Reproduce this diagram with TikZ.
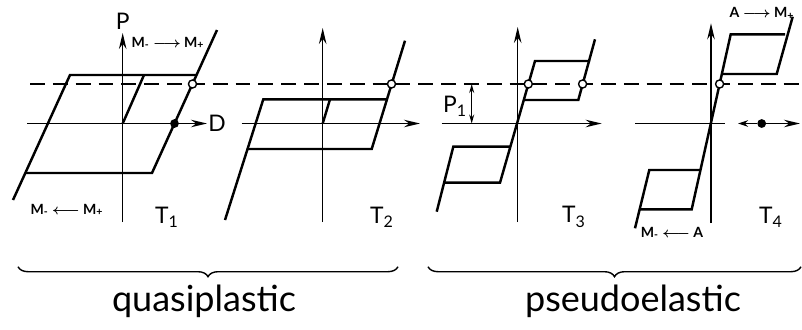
\documentclass[tikz,border=0pt]{standalone}
\usepackage{amsmath}
\usepackage{fontspec}
\setmainfont{Lato}
\usetikzlibrary{arrows.meta, decorations.pathreplacing}
\tikzset{
	axisarrow/.style={line width=0.9pt, -{Stealth[length=3.2mm, width=1.5mm]}},
	branch/.style   ={line width=1.4pt, line join=miter},
	dashline/.style ={line width=0.9pt, dash pattern=on 8.5pt off 4.5pt},
	opendot/.style  ={circle, draw=black, line width=0.8pt, fill=white, minimum size=4.6pt, inner sep=0pt},
	fulldot/.style  ={circle, fill=black, minimum size=5pt, inner sep=0pt},
	axlabel/.style  ={font=\fontsize{13}{15}\selectfont},
	phase/.style    ={font=\fontsize{8}{9}\selectfont\bfseries\boldmath},
	regime/.style   ={font=\fontsize{20.5}{24}\selectfont, anchor=base},
	grp/.style      ={line width=0.8pt, decorate, decoration={brace, mirror, amplitude=0.2cm}},
}
\begin{document}
\begin{tikzpicture}[x=0.02cm, y=-0.02cm]
	\useasboundingbox (0,0) rectangle (802,329);
	% level of the critical load
	\draw[dashline] (30,84) -- (800,84);
	% axes
	\foreach \n/\x/\top/\left/\right in {1/122.7/33/27/207, 2/322.7/28/241.7/420, 3/517.7/27/441.7/601.7} {
		\coordinate (o\n) at (\x,123.5);
		\draw[axisarrow] (\x,222) -- (\x,\top);
		\draw[axisarrow] (\left,123.5) -- (\right,123.5);
	}
	\coordinate (o4) at (711,123.5);
	\draw[axisarrow] (711,223) -- (711,23.3);
	\draw[line width=0.9pt] (635,123.5) -- (725,123.5);
	\foreach \n/\x in {1/167, 2/382, 3/574, 4/771}
		\node[axlabel] (t\n) at (\x,217) {T\textsubscript{\n}};
	\node[axlabel] (lP) at (122.7,21) {P};
	\node[axlabel] (lD) at (217,123.5) {D};
	% T1
	\draw[branch] (13,200) -- (70,75) -- (196.6,75);
	\draw[branch] (25.3,173) -- (152,173) -- (217,30);
	\draw[branch] (o1) -- (144,75);
	% T2
	\draw[branch] (225,220) -- (263.3,99.3) -- (387,99.3);
	\draw[branch] (247.5,149) -- (371.7,149) -- (405,40.7);
	\draw[branch] (o2) -- (330,99.3);
	% T3
	\draw[branch] (444,182.7) -- (500,182.7) -- (535,61) -- (590,61);
	\draw[branch] (436.7,211.7) -- (453.3,146.7) -- (510.4,146.7);
	\draw[branch] (524,100) -- (578.3,100) -- (595,39.3);
	% T4
	\draw[branch] (639.7,209.3) -- (691.7,209.3) -- (730.7,34.3) -- (785,34.3);
	\draw[branch] (635,228.3) -- (649.3,170) -- (700.5,170);
	\draw[branch] (721.9,74) -- (776.7,74) -- (792.7,16.7);
	% points
	\node[opendot] (c1) at (192.5,84) {};
	\node[fulldot] (f1) at (174.5,123.5) {};
	\node[opendot] (c2) at (391.5,84) {};
	\node[opendot] (c3a) at (528.3,84) {};
	\node[opendot] (c3b) at (582.6,84) {};
	\node[opendot] (c4) at (719.6,84) {};
	\node[fulldot] (f4) at (761.7,123.5) {};
	\coordinate (l4) at (738,123.5);
	\coordinate (r4) at (800,123.5);
	\draw[line width=0.9pt, -{Stealth[length=2mm, width=1.3mm]}] (f4) -- (l4);
	\draw[axisarrow] (f4) -- (r4);
	% P1
	\coordinate (p1top) at (471.7,84);
	\coordinate (p1bot) at (471.7,123.5);
	\draw[line width=0.7pt, {Stealth[length=1.8mm, width=1mm]}-{Stealth[length=1.8mm, width=1mm]}] (p1top) -- (p1bot);
	\node[axlabel] (p1) at (455,106) {P\textsubscript{1}};
	% transformations
	\node[phase] (m1) at (168,43) {M\textsubscript{-} $\longrightarrow$ M\textsubscript{+}};
	\node[phase] (m2) at (67,210) {M\textsubscript{-} $\longleftarrow$ M\textsubscript{+}};
	\node[phase] (m3) at (762,13.3) {A $\longrightarrow$ M\textsubscript{+}};
	\node[phase] (m4) at (672,233) {M\textsubscript{-} $\longleftarrow$ A};
	% regimes
	\coordinate (q0) at (18,266.7);
	\coordinate (q1) at (398,266.7);
	\coordinate (q2) at (428,266.7);
	\coordinate (q3) at (801,266.7);
	\draw[grp] (q0) -- (q1);
	\draw[grp] (q2) -- (q3);
	\node[regime] (qp) at (204,311.7) {quasiplastic};
	\node[regime] (pe) at (633,311.7) {pseudoelastic};
\end{tikzpicture}
\end{document}
